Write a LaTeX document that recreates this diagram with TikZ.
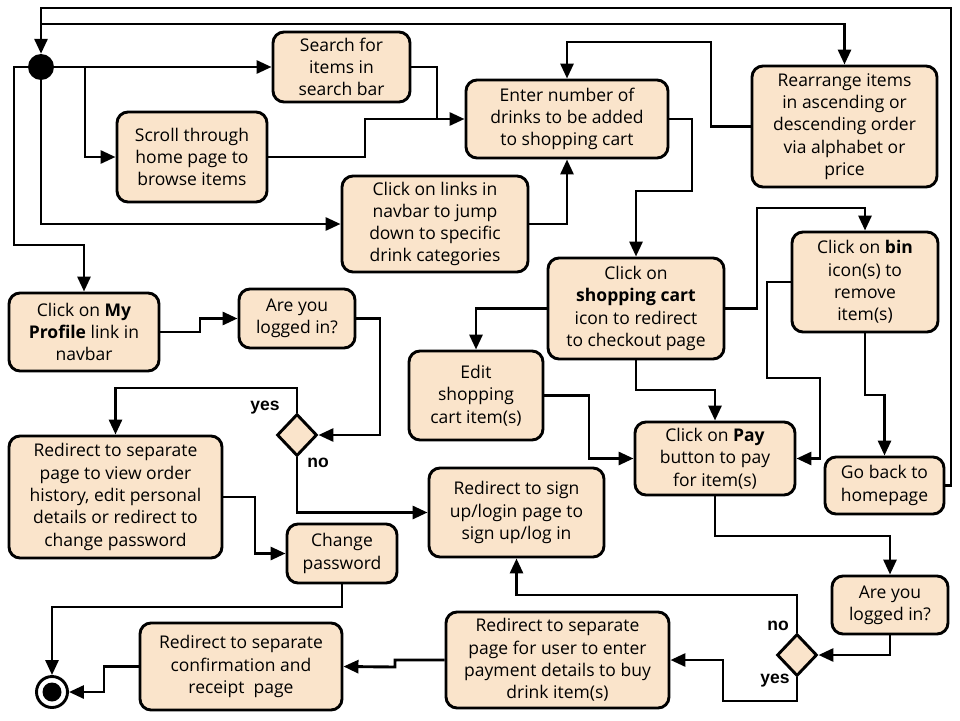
\documentclass[tikz,border=0pt]{standalone}
\usepackage{fontspec}
\setmainfont{Open Sans}
\newfontfamily\lblfont{Liberation Sans}
\usetikzlibrary{arrows.meta,shapes.geometric}
\definecolor{peach}{RGB}{250,228,203}
\tikzset{
  act/.style={draw=black, line width=2.9pt, fill=peach, rounded corners=11pt,
    align=center, inner sep=0pt, font=\fontsize{17.5}{22.3}\selectfont},
  dec/.style={draw=black, line width=2.9pt, fill=peach, diamond, inner sep=0pt,
    minimum width=40pt, minimum height=42pt},
  conn/.style={line width=2.9pt, -{Triangle[length=15pt,width=13pt]}},
  plain/.style={line width=2.9pt},
  lbl/.style={font=\lblfont\bfseries\fontsize{17.5}{17.5}\selectfont, inner sep=0pt}
}
\begin{document}
\begin{tikzpicture}[x=1pt,y=-1pt]
\useasboundingbox (0,0) rectangle (960,720);
% nodes
\node[circle, fill=black, minimum size=26pt, inner sep=0pt] (init) at (41,67) {};
\node[act, minimum width=137pt, minimum height=70pt] (search) at (341.5,67) {Search for\\items in\\search bar};
\node[act, minimum width=150pt, minimum height=90pt] (scroll) at (192,157) {Scroll through\\home page to\\browse items};
\node[act, minimum width=186pt, minimum height=96pt] (links) at (435,224) {Click on links in\\navbar to jump\\down to specific\\drink categories};
\node[act, minimum width=202pt, minimum height=78pt] (enter) at (567,119) {Enter number of\\drinks to be added\\to shopping cart};
\node[act, minimum width=185pt, minimum height=121pt] (rearr) at (844.5,126.5) {Rearrange items\\in ascending or\\descending order\\via alphabet or\\price};
\node[act, minimum width=146pt, minimum height=100pt] (bin) at (865,282) {Click on \textbf{bin}\\icon(s) to\\remove\\item(s)};
\node[act, minimum width=176pt, minimum height=101pt] (cart) at (636,308.5) {Click on\\\textbf{shopping cart}\\icon to redirect\\to checkout page};
\node[act, minimum width=134pt, minimum height=89pt] (edit) at (476,395.5) {Edit\\shopping\\cart item(s)};
\node[act, minimum width=160pt, minimum height=73pt] (pay) at (715,458.5) {Click on \textbf{Pay}\\button to pay\\for item(s)};
\node[act, minimum width=119pt, minimum height=57pt] (goback) at (884.5,485.5) {Go back to\\homepage};
\node[act, minimum width=116pt, minimum height=58pt] (logged2) at (890,605) {Are you\\logged in?};
\node[dec] (dia2) at (797,655) {};
\node[act, minimum width=223pt, minimum height=96pt] (payment) at (557.5,660) {Redirect to separate\\page for user to enter\\payment details to buy\\drink item(s)};
\node[act, minimum width=202pt, minimum height=87pt] (confirm) at (241,666.5) {Redirect to separate\\confirmation and\\receipt\ \ page};
\node[circle, draw=black, line width=2.9pt, fill=white, minimum size=31pt, inner sep=0pt] (final) at (52,692) {};
\fill[black] (final.center) circle (9.5pt);
\node[act, minimum width=110pt, minimum height=59pt] (chpw) at (342,553.5) {Change\\password};
\node[act, minimum width=213pt, minimum height=122pt] (redprof) at (115.5,497) {Redirect to separate\\page to view order\\history, edit personal\\details or redirect to\\change password};
\node[act, minimum width=150pt, minimum height=78pt] (myprof) at (84,332) {Click on \textbf{My}\\\textbf{Profile} link in\\navbar};
\node[act, minimum width=116pt, minimum height=59pt] (logged1) at (297,318.5) {Are you\\logged in?};
\node[dec] (dia1) at (297,435) {};
\node[act, minimum width=175pt, minimum height=89pt] (signup) at (516.5,512.5) {Redirect to sign\\up/login page to\\sign up/log in};
% labels
\node[lbl] (y1) at (265,408) {yes};
\node[lbl] (n1) at (318,463) {no};
\node[lbl] (n2) at (778,626) {no};
\node[lbl] (y2) at (775,681) {yes};
% junction coordinates
\coordinate (j1) at (41,24);
\coordinate (j2) at (85,67);
% connectors
\draw[conn] (goback.east) -- (951,485.5) -- (951,8) -- (41,8) -- (init.north);
\draw[conn] (j1) -| (rearr.north);
\draw[conn] (init) -- (search.west);
\draw[conn] (j2) |- (scroll.west);
\draw[conn] (init) |- (links.west);
\draw[conn] (init.west) -- (14,67) -- (14,245) -| (myprof.north);
\draw[conn] (search.east) -- (437,67) |- (enter.west);
\draw[plain] (scroll.east) -- (365,157) -- (365,119) -- (437,119);
\draw[conn] (links.east) -| (enter.south);
\draw[conn] (rearr.west) -- (711,126.5) -- (711,42) -| (enter.north);
\draw[conn] (enter.east) -- (692,119) -- (692,191) -| (cart.north);
\draw[conn] (cart.east) -- (757,308.5) -- (757,208) -| (bin.north);
\draw[conn] (cart.west) -| (edit.north);
\draw[conn] (cart.south) -- (636,390) -| (pay.north);
\draw[conn] (edit.east) -- (589,395.5) |- (pay.west);
\draw[conn] (bin.west) -- (767,282) -- (767,378) -- (820,378) |- (pay.east);
\draw[conn] (bin.south) -- (865,395) -| (goback.north);
\draw[conn] (pay.south) -- (715,536) -| (logged2.north);
\draw[conn] (logged2.south) |- (dia2.east);
\draw[conn] (dia2.north) -- (797,595) -| (signup.south);
\draw[conn] (dia2.south) -- (797,701) -- (723,701) |- (payment.east);
\draw[conn] (payment.west) -- (395,660) -- (395,667) -- (confirm.east);
\draw[conn] (confirm.west) -- (104,666.5) |- (final.east);
\draw[conn] (chpw.south) -- (342,607) -| (final.north);
\draw[conn] (redprof.east) -- (255,497) |- (chpw.west);
\draw[conn] (myprof.east) -- (200,332) -- (200,318.5) -- (logged1.west);
\draw[conn] (logged1.east) -- (380,318.5) |- (dia1.east);
\draw[conn] (dia1.north) -- (297,388) -| (redprof.north);
\draw[conn] (dia1.south) |- (signup.west);
\end{tikzpicture}
\end{document}
